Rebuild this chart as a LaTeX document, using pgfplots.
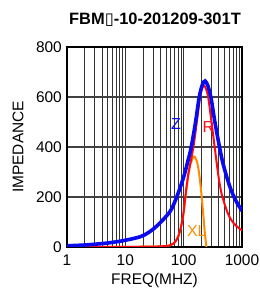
\documentclass[border=0pt]{standalone}
\usepackage{pgfplots}
\pgfplotsset{compat=1.18}
\usepackage{fontspec}
\setmainfont{Liberation Sans}
\newfontfamily\symfont{DejaVu Sans}
\definecolor{zblue}{RGB}{10,10,240}
\definecolor{rred}{RGB}{250,10,20}
\definecolor{xorange}{RGB}{255,140,0}
\begin{document}
\begin{tikzpicture}
\path[use as bounding box] (0,0) rectangle (260bp,291bp);
\begin{axis}[
  at={(67bp,44bp)}, anchor=south west,
  scale only axis, width=175bp, height=200bp,
  xmode=log, log basis x=10,
  xmin=1, xmax=1000, ymin=0, ymax=800,
  xtick={1,10,100,1000}, xticklabels={1,10,100,1000},
  minor xtick={2,3,4,5,6,7,8,9,20,30,40,50,60,70,80,90,200,300,400,500,600,700,800,900},
  ytick={0,200,400,600,800},
  major tick length=0pt, minor tick length=0pt,
  xmajorgrids, xminorgrids, ymajorgrids,
  major grid style={black!80, line width=0.7bp},
  minor grid style={black!80, line width=0.7bp},
  y grid style={black!75, line width=1.1bp},
  axis line style={black, line width=1.2bp},
  /pgf/number format/assume math mode=true,
  tick label style={font=\fontsize{15.5}{16}\selectfont, inner sep=0pt},
  xticklabel style={anchor=north, yshift=-8bp},
  yticklabel style={anchor=east, xshift=-5bp},
  clip=true,
]
\addplot[xorange, line width=2bp, smooth] coordinates {
(1,0.5) (10,0.8) (30,1.5) (50,4) (60,8) (70,18) (80,40) (90,80) (100,140)
(110,220) (120,290) (132,335) (151,362) (170,340) (185,290) (200,220)
(215,140) (230,60) (245,0) (260,-60)
};
\addplot[rred, line width=2bp, smooth] coordinates {
(1,0.5) (10,0.8) (30,1.5) (50,4) (60,8) (70,18) (80,40) (90,80) (100,140)
(106,195) (120,290) (147,400) (170,510) (191,600) (210,638) (225,645) (242,632)
(265,595) (300,500) (340,400) (394,285) (450,210) (560,140) (668,105)
(800,84) (1000,66)
};
\addplot[zblue, line width=3.6bp, smooth] coordinates {
(1,5) (2,8) (5,16) (10,27) (18,41) (25,58) (35,85) (58,141) (76,200)
(100,280) (120,350) (135,400) (160,500) (185,600) (210,650) (233,664)
(260,645) (295,595) (340,505) (400,415) (460,345) (540,285) (640,232)
(760,192) (880,165) (1000,145)
};
\node[zblue, font=\fontsize{16}{16}\selectfont] at (axis cs:74,492) {Z};
\node[rred, font=\fontsize{16}{16}\selectfont] at (axis cs:265,479) {R};
\node[xorange, font=\fontsize{16}{16}\selectfont] at (axis cs:168,65) {XL};
\end{axis}
\node[font=\fontsize{16.5}{17}\selectfont\bfseries] at (155bp,271bp) {FBM{\symfont ▯}-10-201209-301T};
\node[rotate=90, font=\fontsize{15.5}{16}\selectfont] at (18bp,144bp) {IMPEDANCE};
\node[font=\fontsize{15.5}{16}\selectfont] at (154.5bp,10bp) {FREQ(MHZ)};
\end{tikzpicture}
\end{document}
